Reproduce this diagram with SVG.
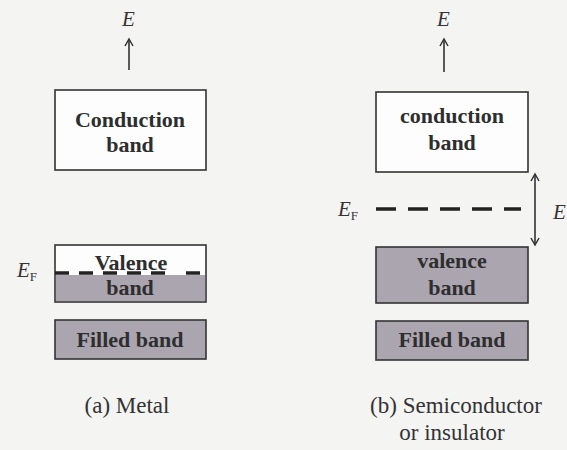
<svg xmlns="http://www.w3.org/2000/svg" width="567" height="450" viewBox="0 0 567 450">
<defs>
<path id="head" d="M-4,7 L0,0 L4,7" fill="none" stroke="#333" stroke-width="1.5"/>
</defs>
<rect x="0" y="0" width="567" height="450" fill="#f4f4f3"/>

<g id="connectors" stroke="#333" stroke-width="1.6" fill="none">
<line x1="129" y1="70" x2="129" y2="39"/>
<use href="#head" x="129" y="39"/>
<line x1="444" y1="72" x2="444" y2="39"/>
<use href="#head" x="444" y="39"/>
<line x1="535" y1="174" x2="535" y2="245"/>
<use href="#head" x="535" y="174"/>
<use href="#head" transform="translate(535,245) rotate(180)"/>
</g>

<text font-family="Liberation Serif" fill="#333" font-style="italic" font-size="21" x="122" y="26">E</text>
<g id="metal-conduction">
<rect x="55" y="90" width="151" height="80" fill="#fdfdfd" stroke="#333" stroke-width="1.6"/>
<text font-family="Liberation Serif" fill="#2e2e2e" font-weight="bold" font-size="22" text-anchor="middle" x="130" y="127">Conduction</text>
<text font-family="Liberation Serif" fill="#2e2e2e" font-weight="bold" font-size="22" text-anchor="middle" x="130" y="152">band</text>
</g>
<g id="metal-valence">
<rect x="55" y="245" width="151" height="57" fill="#fdfdfd"/>
<rect x="56" y="275" width="149" height="26" fill="#aba5b0"/>
<rect x="55" y="245" width="151" height="57" fill="none" stroke="#333" stroke-width="1.6"/>
<line x1="55" y1="273" x2="200" y2="273" stroke="#222" stroke-width="3.5" stroke-dasharray="14,10,14,10,14,10,14,10,14,21,14"/>
<text font-family="Liberation Serif" fill="#2e2e2e" font-weight="bold" font-size="22" text-anchor="middle" x="131" y="270">Valence</text>
<text font-family="Liberation Serif" fill="#2e2e2e" font-weight="bold" font-size="22" text-anchor="middle" x="130" y="295">band</text>
</g>
<text font-family="Liberation Serif" fill="#333" font-style="italic" font-size="21" x="17" y="277">E<tspan font-style="normal" font-size="13" dy="4">F</tspan></text>
<g id="metal-filled">
<rect x="55" y="320" width="151" height="39" fill="#aba5b0" stroke="#333" stroke-width="1.6"/>
<text font-family="Liberation Serif" fill="#2e2e2e" font-weight="bold" font-size="22" text-anchor="middle" x="130" y="347">Filled band</text>
</g>
<text font-family="Liberation Serif" fill="#333" font-size="23" text-anchor="middle" x="127" y="413">(a) Metal</text>

<text font-family="Liberation Serif" fill="#333" font-style="italic" font-size="21" x="437" y="26">E</text>
<g id="semi-conduction">
<rect x="376" y="92" width="152" height="80" fill="#fdfdfd" stroke="#333" stroke-width="1.6"/>
<text font-family="Liberation Serif" fill="#2e2e2e" font-weight="bold" font-size="22" text-anchor="middle" x="452" y="123">conduction</text>
<text font-family="Liberation Serif" fill="#2e2e2e" font-weight="bold" font-size="22" text-anchor="middle" x="452" y="150">band</text>
</g>
<text font-family="Liberation Serif" fill="#333" font-style="italic" font-size="21" x="338" y="216">E<tspan font-style="normal" font-size="13" dy="4">F</tspan></text>
<line x1="376" y1="209" x2="521" y2="209" stroke="#222" stroke-width="3.5" stroke-dasharray="20,12"/>
<text font-family="Liberation Serif" fill="#333" font-style="italic" font-size="21" x="553" y="219">E</text>
<g id="semi-valence">
<rect x="376" y="247" width="152" height="56" fill="#aba5b0" stroke="#333" stroke-width="1.6"/>
<text font-family="Liberation Serif" fill="#2e2e2e" font-weight="bold" font-size="22" text-anchor="middle" x="452" y="268">valence</text>
<text font-family="Liberation Serif" fill="#2e2e2e" font-weight="bold" font-size="22" text-anchor="middle" x="452" y="295">band</text>
</g>
<g id="semi-filled">
<rect x="376" y="321" width="152" height="39" fill="#aba5b0" stroke="#333" stroke-width="1.6"/>
<text font-family="Liberation Serif" fill="#2e2e2e" font-weight="bold" font-size="22" text-anchor="middle" x="452" y="347">Filled band</text>
</g>
<text font-family="Liberation Serif" fill="#333" font-size="23" text-anchor="middle" x="456" y="413">(b) Semiconductor</text>
<text font-family="Liberation Serif" fill="#333" font-size="23" text-anchor="middle" x="452" y="440">or insulator</text>
</svg>
